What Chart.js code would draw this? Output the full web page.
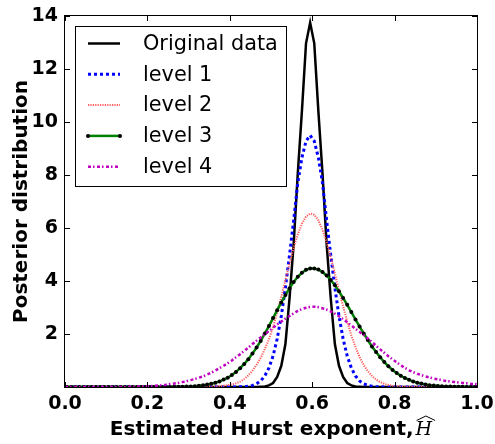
<!DOCTYPE html>
<html>
<head>
<meta charset="utf-8">
<script src="https://cdn.jsdelivr.net/npm/chart.js@4.4.1/dist/chart.umd.min.js"></script>
<style>
  html, body { margin: 0; padding: 0; background: #fff; }
  #wrap { width: 495px; height: 444px; }
</style>
</head>
<body>
<div id="wrap"><canvas id="posteriorChart" width="495" height="444"></canvas></div>
<script>
// estimated Hurst exponent grid (x values)
var hurst = [0,
  0.005, 0.015, 0.025, 0.035, 0.045, 0.055, 0.065, 0.075, 0.085, 0.095,
  0.105, 0.115, 0.125, 0.135, 0.145, 0.155, 0.165, 0.175, 0.185, 0.195,
  0.205, 0.215, 0.225, 0.235, 0.245, 0.255, 0.265, 0.275, 0.285, 0.295,
  0.305, 0.315, 0.325, 0.335, 0.345, 0.355, 0.365, 0.375, 0.385, 0.395,
  0.405, 0.415, 0.425, 0.435, 0.445, 0.455, 0.465, 0.475, 0.485, 0.495,
  0.505, 0.515, 0.525, 0.535, 0.545, 0.555, 0.565, 0.575, 0.585, 0.595,
  0.605, 0.615, 0.625, 0.635, 0.645, 0.655, 0.665, 0.675, 0.685, 0.695,
  0.705, 0.715, 0.725, 0.735, 0.745, 0.755, 0.765, 0.775, 0.785, 0.795,
  0.805, 0.815, 0.825, 0.835, 0.845, 0.855, 0.865, 0.875, 0.885, 0.895,
  0.905, 0.915, 0.925, 0.935, 0.945, 0.955, 0.965, 0.975, 0.985, 0.995,
  1];

var originalData = [0,
  0, 0, 0, 0, 0, 0, 0, 0, 0, 0,
  0, 0, 0, 0, 0, 0, 0, 0, 0, 0,
  0, 0, 0, 0, 0, 0, 0, 0, 0, 0,
  0, 0, 0, 0, 0, 0, 0, 0, 0, 0,
  0, 0, 0, 0, 0, 0, 0, 0.01, 0.02, 0.06,
  0.15, 0.38, 0.80, 1.62, 3.35, 5.40, 8.06, 10.4, 12.97, 13.75,
  12.97, 10.4, 8.06, 5.40, 3.35, 1.62, 0.80, 0.38, 0.15, 0.06,
  0.02, 0.01, 0, 0, 0, 0, 0, 0, 0, 0,
  0, 0, 0, 0, 0, 0, 0, 0, 0, 0,
  0, 0, 0, 0, 0, 0, 0, 0, 0, 0,
  0];

var level1 = [0,
  0, 0, 0, 0, 0, 0, 0, 0, 0, 0,
  0, 0, 0, 0, 0, 0, 0, 0, 0, 0,
  0, 0, 0, 0, 0, 0, 0, 0, 0, 0,
  0, 0, 0, 0, 0, 0, 0, 0, 0, 0,
  0, 0, 0.01, 0.01, 0.03, 0.06, 0.12, 0.23, 0.42, 0.72,
  1.17, 1.82, 2.68, 3.75, 4.98, 6.29, 7.70, 8.65, 9.28, 9.50,
  9.28, 8.65, 7.70, 6.29, 4.98, 3.75, 2.68, 1.82, 1.17, 0.72,
  0.42, 0.23, 0.12, 0.06, 0.03, 0.01, 0.01, 0, 0, 0,
  0, 0, 0, 0, 0, 0, 0, 0, 0, 0,
  0, 0, 0, 0, 0, 0, 0, 0, 0, 0,
  0];

var level2 = [0,
  0, 0, 0, 0, 0, 0, 0, 0, 0, 0,
  0, 0, 0, 0, 0, 0, 0, 0, 0, 0,
  0, 0, 0, 0, 0, 0, 0, 0, 0, 0,
  0, 0, 0.002, 0.004, 0.007, 0.012, 0.02, 0.032, 0.05, 0.07,
  0.095, 0.14, 0.20, 0.30, 0.44, 0.62, 0.84, 1.10, 1.43, 1.80,
  2.26, 2.81, 3.41, 4.03, 4.66, 5.25, 5.76, 6.16, 6.43, 6.55,
  6.50, 6.29, 5.93, 5.46, 4.90, 4.28, 3.65, 3.05, 2.47, 1.95,
  1.51, 1.13, 0.83, 0.60, 0.42, 0.28, 0.19, 0.12, 0.076, 0.047,
  0.028, 0.016, 0.009, 0.005, 0.003, 0, 0, 0, 0, 0,
  0, 0, 0, 0, 0, 0, 0, 0, 0, 0,
  0];

var level3 = [0,
  0, 0, 0, 0, 0, 0, 0, 0, 0, 0,
  0, 0, 0, 0, 0, 0, 0, 0, 0, 0,
  0, 0, 0, 0.001, 0.002, 0.003, 0.005, 0.008, 0.011, 0.016,
  0.023, 0.033, 0.047, 0.064, 0.09, 0.12, 0.16, 0.21, 0.28, 0.35,
  0.45, 0.57, 0.71, 0.87, 1.05, 1.26, 1.49, 1.74, 2.02, 2.30,
  2.60, 2.90, 3.19, 3.47, 3.73, 3.96, 4.16, 4.31, 4.42, 4.47,
  4.47, 4.43, 4.34, 4.21, 4.04, 3.84, 3.61, 3.36, 3.10, 2.83,
  2.55, 2.28, 2.02, 1.77, 1.53, 1.32, 1.12, 0.94, 0.78, 0.64,
  0.53, 0.42, 0.34, 0.27, 0.21, 0.16, 0.13, 0.095, 0.07, 0.053,
  0.039, 0.028, 0.02, 0.015, 0.01, 0.007, 0.005, 0.003, 0.002, 0.001,
  0.001];

var level4 = [0,
  0, 0, 0, 0, 0, 0, 0, 0, 0, 0,
  0.001, 0.001, 0.002, 0.003, 0.004, 0.005, 0.008, 0.012, 0.017, 0.023,
  0.03, 0.04, 0.053, 0.068, 0.087, 0.11, 0.13, 0.155, 0.185, 0.22,
  0.26, 0.30, 0.35, 0.40, 0.47, 0.54, 0.62, 0.71, 0.80, 0.90,
  1.00, 1.12, 1.24, 1.36, 1.49, 1.62, 1.75, 1.87, 1.99, 2.11,
  2.24, 2.36, 2.47, 2.58, 2.68, 2.78, 2.87, 2.94, 2.99, 3.02,
  3.03, 3.01, 2.97, 2.92, 2.85, 2.77, 2.67, 2.56, 2.44, 2.32,
  2.20, 2.08, 1.96, 1.83, 1.70, 1.56, 1.42, 1.29, 1.16, 1.04,
  0.93, 0.82, 0.72, 0.63, 0.56, 0.50, 0.45, 0.40, 0.36, 0.32,
  0.29, 0.26, 0.23, 0.21, 0.19, 0.17, 0.15, 0.14, 0.12, 0.11,
  0.10];

var seriesNames = ["Original data", "level 1", "level 2", "level 3", "level 4"];
var xTickValues = [0, 0.2, 0.4, 0.6, 0.8, 1.0];
var xTickLabels = ["0.0", "0.2", "0.4", "0.6", "0.8", "1.0"];
var yTickValues = [0, 2, 4, 6, 8, 10, 12, 14];
var yTickLabels = ["", "2", "4", "6", "8", "10", "12", "14"];

var toPoints = function (vals) {
  return hurst.map(function (h, i) { return { x: h, y: vals[i] }; });
};

var tickFont = { family: "DejaVu Sans", weight: "bold", size: 19 };

// frame, inward ticks, legend box and axis titles, matplotlib style
var decorPlugin = {
  id: "decor",
  afterDatasetsDraw: function (chart) {
    var ctx = chart.ctx, a = chart.chartArea;
    var sx = chart.scales.x, sy = chart.scales.y;
    ctx.save();
    ctx.strokeStyle = "#000";
    ctx.lineWidth = 1;
    ctx.setLineDash([]);
    ctx.strokeRect(Math.round(a.left) - 0.5, Math.round(a.top) - 0.5,
      Math.round(a.right - a.left) + 1, Math.round(a.bottom - a.top) + 1);

    ctx.beginPath();
    xTickValues.forEach(function (v) {
      var px = Math.round(sx.getPixelForValue(v)) + 0.5;
      ctx.moveTo(px, a.bottom); ctx.lineTo(px, a.bottom - 5);
      ctx.moveTo(px, a.top); ctx.lineTo(px, a.top + 5);
    });
    yTickValues.forEach(function (v) {
      var py = Math.round(sy.getPixelForValue(v)) + 0.5;
      ctx.moveTo(a.left, py); ctx.lineTo(a.left + 5, py);
      ctx.moveTo(a.right, py); ctx.lineTo(a.right - 5, py);
    });
    ctx.stroke();

    // legend
    var bx = 75.5, by = 26.5, bw = 211, bh = 160;
    ctx.fillStyle = "#fff";
    ctx.fillRect(bx, by, bw, bh);
    ctx.strokeStyle = "#000";
    ctx.lineWidth = 1;
    ctx.strokeRect(bx, by, bw, bh);
    ctx.font = '20.8px "DejaVu Sans"';
    ctx.textBaseline = "middle";
    ctx.textAlign = "left";
    chart.data.datasets.forEach(function (ds, i) {
      var ly = 43.5 + i * 30.8;
      ctx.save();
      ctx.strokeStyle = ds.borderColor;
      ctx.lineWidth = ds.borderWidth;
      ctx.setLineDash(ds.borderDash || []);
      ctx.beginPath();
      ctx.moveTo(88, ly); ctx.lineTo(120, ly);
      ctx.stroke();
      if (ds.pointRadius > 0) {
        ctx.fillStyle = ds.pointBackgroundColor;
        [88, 120].forEach(function (mx) {
          ctx.beginPath();
          ctx.arc(mx, ly, ds.pointRadius, 0, Math.PI * 2);
          ctx.fill();
        });
      }
      ctx.restore();
      ctx.fillStyle = "#000";
      ctx.fillText(ds.label, 143, ly + 1);
    });

    // x axis title with a widehat H
    var part1 = "Estimated Hurst exponent,";
    ctx.font = 'bold 20px "DejaVu Sans"';
    var w1 = ctx.measureText(part1).width;
    ctx.font = 'italic 19px "DejaVu Serif"';
    var w2 = ctx.measureText("H").width;
    var startX = (a.left + a.right) / 2 - (w1 + 2 + w2) / 2;
    ctx.textBaseline = "alphabetic";
    ctx.fillStyle = "#000";
    ctx.font = 'bold 20px "DejaVu Sans"';
    ctx.fillText(part1, startX, 435);
    var hx = startX + w1 + 2;
    ctx.font = 'italic 19px "DejaVu Serif"';
    ctx.fillText("H", hx, 435);
    ctx.beginPath();
    ctx.lineWidth = 1;
    ctx.moveTo(hx + 1, 420.5);
    ctx.lineTo(hx + w2 / 2 + 2, 416);
    ctx.lineTo(hx + w2 + 3, 420.5);
    ctx.stroke();

    // y axis title
    ctx.save();
    ctx.translate(27, (a.top + a.bottom) / 2);
    ctx.rotate(-Math.PI / 2);
    ctx.textAlign = "center";
    ctx.font = 'bold 20px "DejaVu Sans"';
    ctx.fillText("Posterior distribution", 0, 0);
    ctx.restore();
    ctx.restore();
  }
};

var ctx = document.getElementById("posteriorChart").getContext("2d");
var posteriorChart = new Chart(ctx, {
  type: "line",
  data: {
    datasets: [
      {
        label: seriesNames[0], data: toPoints(originalData),
        borderColor: "#000000", borderWidth: 2.5, pointRadius: 0, order: 5
      },
      {
        label: seriesNames[1], data: toPoints(level1),
        borderColor: "#0000ff", borderWidth: 3, borderDash: [3, 3], pointRadius: 0, order: 4
      },
      {
        label: seriesNames[2], data: toPoints(level2),
        borderColor: "#ff5a5a", borderWidth: 2, borderDash: [1.2, 1.2], pointRadius: 0, order: 3
      },
      {
        label: seriesNames[3], data: toPoints(level3),
        borderColor: "#008000", borderWidth: 2.5, pointRadius: 2,
        pointBackgroundColor: "#000000", pointBorderWidth: 0, order: 2
      },
      {
        label: seriesNames[4], data: toPoints(level4),
        borderColor: "#bf00bf", borderWidth: 2.5, borderDash: [3, 2, 1.5, 2.5], pointRadius: 0, order: 1
      }
    ]
  },
  options: {
    responsive: false,
    animation: false,
    devicePixelRatio: 1,
    layout: { padding: { left: 0, right: 18, top: 16, bottom: 0 } },
    elements: { line: { tension: 0, fill: false } },
    datasets: { line: { clip: 0 } },
    plugins: {
      legend: { display: false },
      tooltip: { enabled: false }
    },
    scales: {
      x: {
        type: "linear", min: 0, max: 1,
        grid: { display: false, drawTicks: false },
        border: { display: false },
        afterBuildTicks: function (scale) {
          scale.ticks = xTickValues.map(function (v) { return { value: v }; });
        },
        afterFit: function (scale) {
          scale.height = 57;
          scale.paddingLeft = 0;
          scale.paddingRight = 0;
        },
        ticks: {
          font: tickFont, color: "#000", padding: 6, maxRotation: 0, autoSkip: false,
          callback: function (v) { return xTickLabels[xTickValues.indexOf(v)]; }
        }
      },
      y: {
        type: "linear", min: 0, max: 14,
        grid: { display: false, drawTicks: false },
        border: { display: false },
        afterBuildTicks: function (scale) {
          scale.ticks = yTickValues.map(function (v) { return { value: v }; });
        },
        afterFit: function (scale) {
          scale.width = 65;
          scale.paddingTop = 0;
          scale.paddingBottom = 0;
        },
        ticks: {
          font: tickFont, color: "#000", padding: 7, autoSkip: false,
          callback: function (v) { return yTickLabels[yTickValues.indexOf(v)]; }
        }
      }
    }
  },
  plugins: [decorPlugin]
});
</script>
</body>
</html>
